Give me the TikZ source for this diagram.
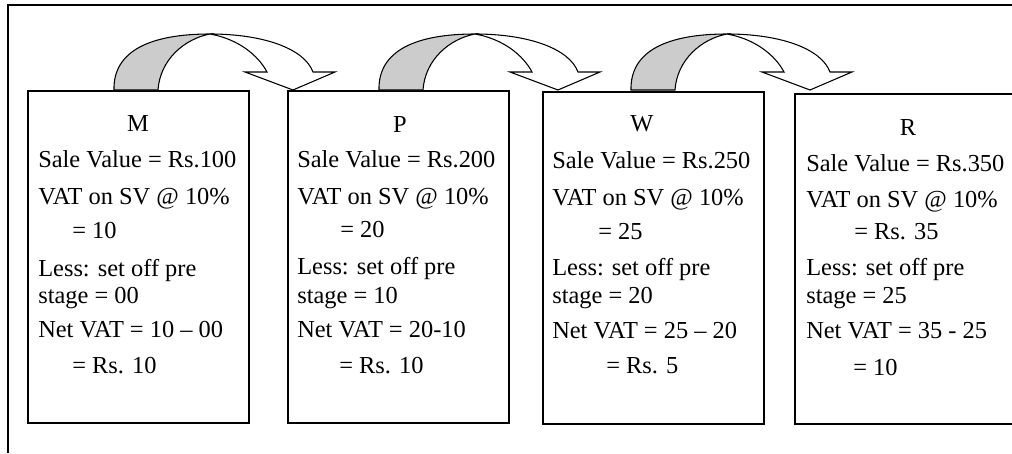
\documentclass[tikz,border=0pt]{standalone}
\usepackage{fontspec}
\setmainfont{Liberation Serif}
\newcommand\vatcurvearrow{%
  \draw[band, fill=gray!40] (114,90) .. controls (113,50) and (152,34) .. (210,34)
        .. controls (184,39) and (160,60) .. (158,90) -- cycle;
  \draw[band, fill=white] (210,34) .. controls (262,34) and (304,48) .. (313,72)
        -- (335,72) -- (293,90) -- (245,72) -- (267,72)
        .. controls (258,55) and (238,39) .. (210,34) -- cycle;
}
\begin{document}
\begin{tikzpicture}[x=0.75pt,y=-0.75pt,
  font=\fontsize{18.3pt}{21pt}\selectfont,
  stagebox/.style={draw, line width=1.4pt, rectangle, anchor=north west, inner sep=0pt},
  txt/.style={anchor=base west, inner sep=0pt},
  ttl/.style={anchor=base, inner sep=0pt},
  band/.style={draw, line width=0.8pt, line join=miter},
  frame/.style={draw, line width=1.4pt}]
\useasboundingbox (0,0) rectangle (1012,453);
\clip (0,0) rectangle (1012,453);
% outer frame
\draw[frame] (8,453) -- (8,5) -- (1012,5);
% boxes
\node[stagebox, minimum width=165.75pt, minimum height=249pt] (mbox) at (27,90) {};
\node[stagebox, minimum width=165.75pt, minimum height=249pt] (pbox) at (287,90) {};
\node[stagebox, minimum width=165.75pt, minimum height=249pt] (wbox) at (542,91) {};
\node[stagebox, minimum width=180pt, minimum height=247.5pt] (rbox) at (794,93) {};
% arrows
\begin{scope}\vatcurvearrow\end{scope}
\begin{scope}[shift={(265,0)}]\vatcurvearrow\end{scope}
\begin{scope}[shift={(517,0)}]\vatcurvearrow\end{scope}
% M
\node[ttl] (mt) at (138,131) {M};
\node[txt] (m1) at (38,167) {Sale Value = Rs.100};
\node[txt] (m2) at (38,204) {VAT on SV @ 10\%};
\node[txt] (m3) at (72,238) {= 10};
\node[txt] (m4) at (38,276) {Less: set off pre};
\node[txt] (m5) at (38,303) {stage = 00};
\node[txt] (m6) at (38,337) {Net VAT = 10 – 00};
\node[txt] (m7) at (72,373) {= Rs. 10};
% P
\node[ttl] (pt) at (400,132) {P};
\node[txt] (p1) at (297,167) {Sale Value = Rs.200};
\node[txt] (p2) at (297,204) {VAT on SV @ 10\%};
\node[txt] (p3) at (340,237) {= 20};
\node[txt] (p4) at (297,274) {Less: set off pre};
\node[txt] (p5) at (297,303) {stage = 10};
\node[txt] (p6) at (297,337) {Net VAT = 20-10};
\node[txt] (p7) at (339,373) {= Rs. 10};
% W
\node[ttl] (wt) at (642,131) {W};
\node[txt] (w1) at (552,168) {Sale Value = Rs.250};
\node[txt] (w2) at (552,205) {VAT on SV @ 10\%};
\node[txt] (w3) at (598,239) {= 25};
\node[txt] (w4) at (552,275) {Less: set off pre};
\node[txt] (w5) at (552,303) {stage = 20};
\node[txt] (w6) at (552,338) {Net VAT = 25 – 20};
\node[txt] (w7) at (606,373) {= Rs. 5};
% R
\node[ttl] (rt) at (908,135) {R};
\node[txt] (r1) at (806,171) {Sale Value = Rs.350};
\node[txt] (r2) at (806,207) {VAT on SV @ 10\%};
\node[txt] (r3) at (854,239) {= Rs. 35};
\node[txt] (r4) at (806,275) {Less: set off pre};
\node[txt] (r5) at (806,303) {stage = 25};
\node[txt] (r6) at (806,338) {Net VAT = 35 - 25};
\node[txt] (r7) at (853,375) {= 10};
\end{tikzpicture}
\end{document}
